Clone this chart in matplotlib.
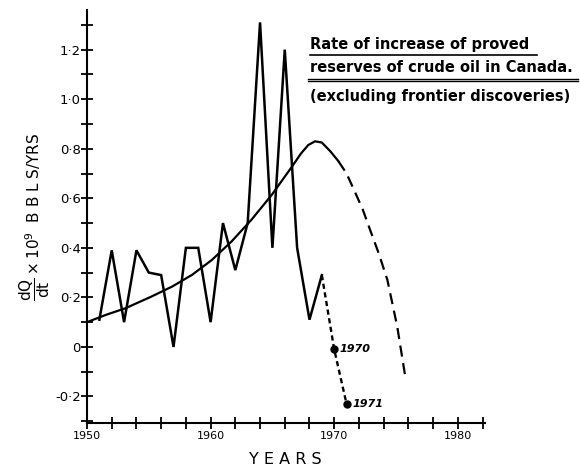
import matplotlib
matplotlib.use("Agg")
import matplotlib.pyplot as plt
from matplotlib.lines import Line2D
import numpy as np

# Annual rate of increase of proved reserves (x10^9 bbls/yr)
years = [1951, 1952, 1953, 1954, 1955, 1956, 1957, 1958, 1959, 1960,
         1961, 1962, 1963, 1964, 1965, 1966, 1967, 1968, 1969]
rates = [0.11, 0.39, 0.10, 0.39, 0.30, 0.29, 0.00, 0.40, 0.40, 0.10,
         0.50, 0.31, 0.50, 1.31, 0.40, 1.20, 0.40, 0.11, 0.29]

# recent years (dotted extension)
recent_years = [1969, 1970, 1971]
recent_rates = [0.29, -0.01, -0.23]
recent_labels = ["1970", "1971"]

# fitted curve (solid part) and projection (dashed part)
fit_years = [1950.0, 1951.5, 1953.1, 1955.2, 1956.9, 1958.5, 1960.1, 1961.7,
             1963.3, 1964.95, 1966.6, 1967.3, 1967.9, 1968.45, 1969.0, 1969.7, 1970.35]
fit_rates = [0.10, 0.129, 0.156, 0.203, 0.244, 0.291, 0.351, 0.426,
             0.513, 0.614, 0.729, 0.780, 0.815, 0.830, 0.825, 0.789, 0.749]
proj_years = [1970.35, 1971.0, 1971.6, 1972.3, 1972.9, 1973.6, 1974.3, 1975.1, 1975.75]
proj_rates = [0.749, 0.700, 0.634, 0.556, 0.473, 0.378, 0.271, 0.082, -0.12]

title_lines = ["Rate of increase of proved",
               "reserves of crude oil in Canada.",
               "(excluding frontier discoveries)"]

fig = plt.figure(figsize=(5.8, 4.71), dpi=100)
ax = fig.add_axes([87/580, 48/471, (485-87)/580, (461-48)/471])

ax.set_xlim(1950, 1982.2)
ax.set_ylim(-0.307, 1.36)

ax.plot(years, rates, color="black", lw=1.8, solid_joinstyle="miter")
ax.plot(recent_years, recent_rates, color="black", lw=1.7, ls=(0, (2.2, 1.5)))
ax.plot(recent_years[1:], recent_rates[1:], "o", color="black", ms=5)
for yx, yv, lab in zip(recent_years[1:], recent_rates[1:], recent_labels):
    ax.annotate(lab, (yx, yv), xytext=(4, 0), textcoords="offset points",
                ha="left", va="center", fontsize=8, style="italic",
                fontweight="bold", family="DejaVu Sans")

ax.plot(fit_years, fit_rates, color="black", lw=1.6, solid_joinstyle="round")
ax.plot(proj_years, proj_rates, color="black", lw=1.6, ls=(0, (5, 3)))

for s in ["top", "right"]:
    ax.spines[s].set_visible(False)
ax.spines["left"].set_linewidth(1.5)
ax.spines["bottom"].set_linewidth(1.5)

ax.set_yticks([-0.2, 0, 0.2, 0.4, 0.6, 0.8, 1.0, 1.2])
ax.set_yticklabels(["-0·2", "0", "0·2", "0·4", "0·6", "0·8", "1·0", "1·2"])
ax.set_yticks(np.arange(-0.3, 1.36, 0.1), minor=True)
ax.set_xticks([1950, 1960, 1970, 1980])
ax.set_xticklabels(["1950", "1960", "1970", "1980"])
ax.set_xticks(np.arange(1950, 1983, 2), minor=True)
ax.tick_params(which="both", direction="inout", length=9, width=1.3)
ax.tick_params(axis="y", pad=0, labelsize=9.5)
ax.tick_params(axis="x", pad=1, labelsize=8)

ax.set_ylabel(r"$\dfrac{\mathrm{dQ}}{\mathrm{dt}}\times10^9$  B B L S/YRS", fontsize=11, labelpad=2)
fig.text(285/580, 1 - 460/471, "Y E A R S", ha="center", va="center", fontsize=11.5)

ys = [44, 68, 96]
for t, y in zip(title_lines, ys):
    fig.text(310/580, 1 - y/471, t, ha="left", va="center",
             fontsize=10.5, fontweight="bold", family="DejaVu Sans")

fig.add_artist(Line2D([310/580, 537/580], [1 - 55/471]*2, color="black", lw=1.2))
fig.add_artist(Line2D([308/580, 578/580], [1 - 79/471]*2, color="black", lw=1.0))
fig.add_artist(Line2D([308/580, 578/580], [1 - 81/471]*2, color="black", lw=1.0))

fig.savefig("out.png", dpi=100, facecolor="white")
